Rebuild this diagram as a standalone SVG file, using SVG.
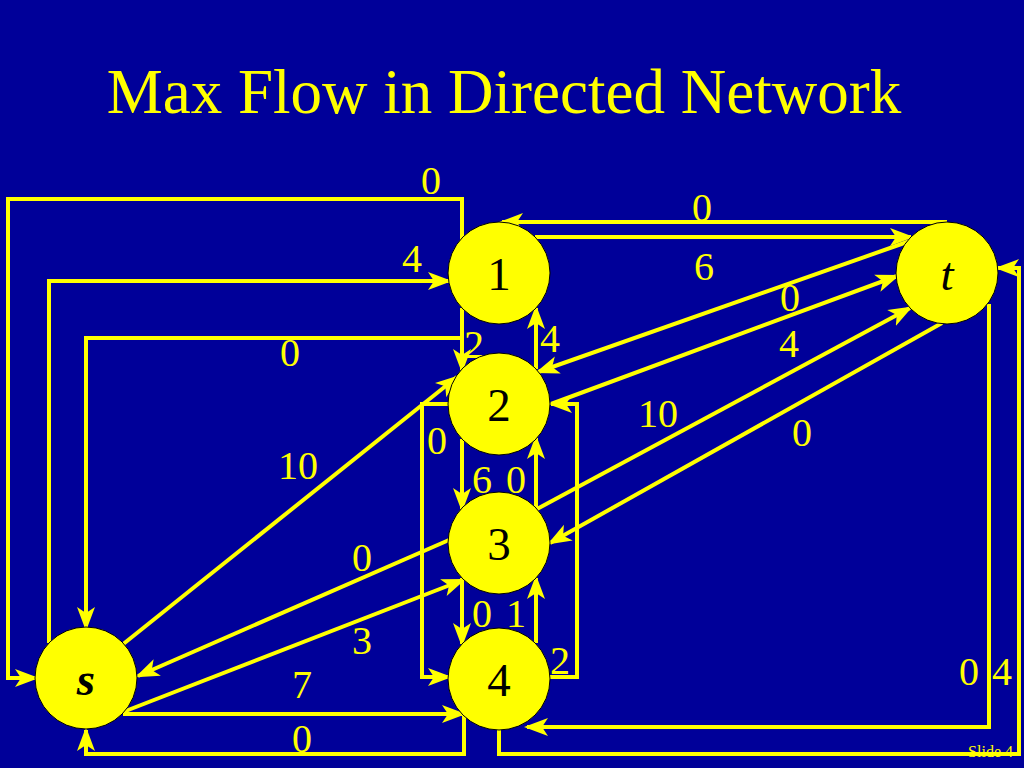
<svg xmlns="http://www.w3.org/2000/svg" width="1024" height="768" viewBox="0 0 1024 768">
<style>
.e{fill:none;stroke:#FFFF00;stroke-width:4;marker-end:url(#ah)}
.lb{font-family:"Liberation Serif","Times New Roman",serif;font-size:40px;fill:#FFFF00;text-anchor:middle}
.nd{fill:#FFFF00;stroke:#000;stroke-width:1}
.nt{font-family:"Liberation Serif","Times New Roman",serif;font-size:47px;fill:#000;text-anchor:middle}
</style>
<defs>
<marker id="ah" markerUnits="userSpaceOnUse" markerWidth="24" markerHeight="20" viewBox="0 0 24 20" refX="21" refY="10" orient="auto">
<path d="M0,1 L24,10 L0,19 L6,10 z" fill="#FFFF00"/>
</marker>
</defs>
<rect width="1024" height="768" fill="#000099"/>
<text x="504" y="113" font-family="Liberation Serif,'Times New Roman',serif" font-size="63" fill="#FFFF00" text-anchor="middle">Max Flow in Directed Network</text>
<g id="connectors">
<path class="e" d="M462,240 V199 H8 V678 H36"/>
<path class="e" d="M49,643 V281 H449"/>
<path class="e" d="M462,369 V338 H86 V628"/>
<path class="e" d="M462,308 V370"/>
<path class="e" d="M122,645 L457,377"/>
<path class="e" d="M536,369 V308"/>
<path class="e" d="M947,222 H502"/>
<path class="e" d="M535,237 H911"/>
<path class="e" d="M910,241 L538,372"/>
<path class="e" d="M551,404 L897,276"/>
<path class="e" d="M537,509 L910,308"/>
<path class="e" d="M942,323 L550,543"/>
<path class="e" d="M549,677 H577 V404 H551"/>
<path class="e" d="M449,404 H422 V677 H449"/>
<path class="e" d="M462,439 V509"/>
<path class="e" d="M536,508 V438"/>
<path class="e" d="M462,578 V644"/>
<path class="e" d="M536,643 V578"/>
<path class="e" d="M449,540 L138,676"/>
<path class="e" d="M123,712 L463,580"/>
<path class="e" d="M123,714 H463"/>
<path class="e" d="M464,716 V754 H86 V730"/>
<path class="e" d="M989,304 V727 H527"/>
<path class="e" d="M499,728 V754 H1019 V268 H998"/>
</g>
<g id="labels">
<text class="lb" x="431" y="194">0</text>
<text class="lb" x="412" y="272">4</text>
<text class="lb" x="290" y="366">0</text>
<text class="lb" x="474" y="358">2</text>
<text class="lb" x="550" y="352">4</text>
<text class="lb" x="702" y="221">0</text>
<text class="lb" x="704" y="280">6</text>
<text class="lb" x="790" y="311">0</text>
<text class="lb" x="789" y="357">4</text>
<text class="lb" x="658" y="427">10</text>
<text class="lb" x="802" y="446">0</text>
<text class="lb" x="437" y="454">0</text>
<text class="lb" x="298" y="479">10</text>
<text class="lb" x="482" y="493">6</text>
<text class="lb" x="516" y="493">0</text>
<text class="lb" x="362" y="571">0</text>
<text class="lb" x="482" y="627">0</text>
<text class="lb" x="516" y="627">1</text>
<text class="lb" x="362" y="654">3</text>
<text class="lb" x="560" y="674">2</text>
<text class="lb" x="302" y="698">7</text>
<text class="lb" x="302" y="752">0</text>
<text class="lb" x="969" y="685">0</text>
<text class="lb" x="1002" y="685">4</text>
</g>
<g id="node-1"><circle class="nd" cx="499" cy="273" r="51"/><text class="nt" x="499" y="290">1</text></g>
<g id="node-t"><circle class="nd" cx="947" cy="273" r="51"/><text class="nt" x="947" y="290" font-style="italic">t</text></g>
<g id="node-2"><circle class="nd" cx="499" cy="404" r="51"/><text class="nt" x="499" y="421">2</text></g>
<g id="node-3"><circle class="nd" cx="499" cy="543" r="51"/><text class="nt" x="499" y="560">3</text></g>
<g id="node-4"><circle class="nd" cx="499" cy="679" r="51"/><text class="nt" x="499" y="696">4</text></g>
<g id="node-s"><circle class="nd" cx="86" cy="678" r="51"/><text class="nt" x="86" y="695" font-style="italic" font-weight="bold">s</text></g>
<text x="1013" y="757" font-family="Liberation Serif,'Times New Roman',serif" font-size="16" fill="#FFFF00" text-anchor="end">Slide 4</text>
</svg>
